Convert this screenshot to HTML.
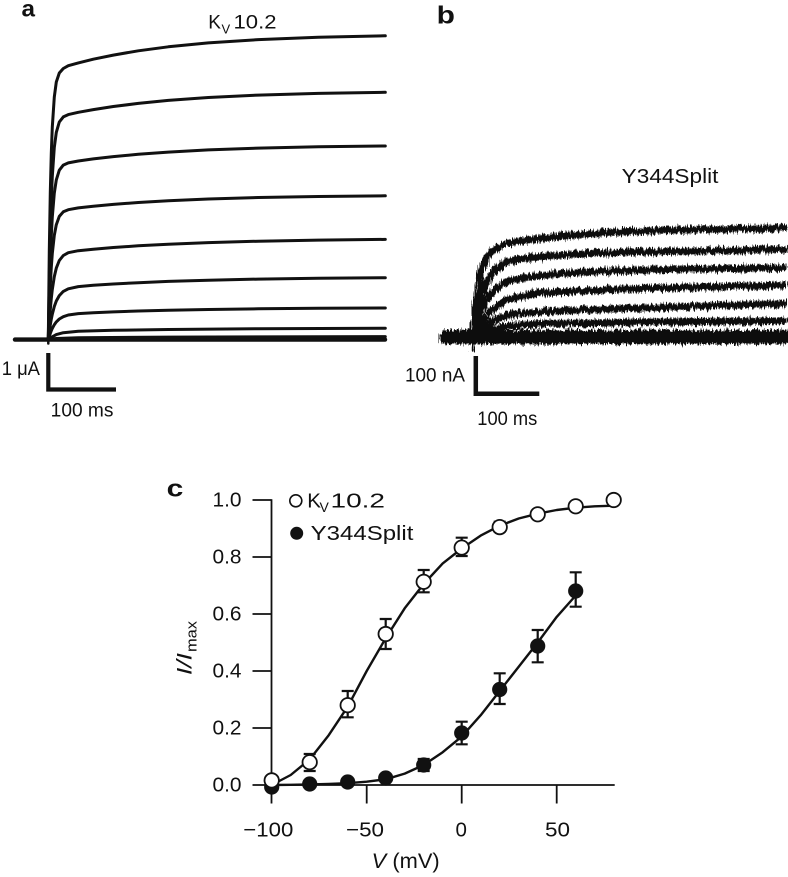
<!DOCTYPE html>
<html><head><meta charset="utf-8"><style>
html,body{margin:0;padding:0;background:#fff;}
svg{display:block;}
text{font-family:"Liberation Sans",Arial,sans-serif;fill:#111;}
</style></head><body>
<svg width="788" height="877" viewBox="0 0 788 877" xmlns="http://www.w3.org/2000/svg">
<defs>
<filter id="nz" x="-5%" y="-30%" width="110%" height="160%">
<feTurbulence type="fractalNoise" baseFrequency="0.8 0.05" numOctaves="2" seed="4" result="t"/>
<feDisplacementMap in="SourceGraphic" in2="t" scale="9" xChannelSelector="R" yChannelSelector="G"/>
</filter>
</defs>

<!-- Panel a -->
<text x="21.5" y="16.5" font-size="23" font-weight="bold" textLength="13.5" lengthAdjust="spacingAndGlyphs">a</text>
<text x="208.3" y="28.3" font-size="19">K</text>
<text x="221.5" y="33.3" font-size="13">V</text>
<text x="233.5" y="28.3" font-size="19" textLength="43" lengthAdjust="spacingAndGlyphs">10.2</text>

<g fill="none" stroke="#111" stroke-width="3" stroke-linejoin="round" stroke-linecap="round">
<line x1="15" y1="339.6" x2="385" y2="339.6" stroke-width="4.4"/>
<polyline points="48.3,340 49.3,250 50.3,192 51.3,153 52.3,127 54.3,97 56.3,82 59.3,73 63.3,68.5 68.3,65.7 78.3,62.9 93.3,59.2 113.3,55.1 138.3,50.8 168.3,46.8 208.3,42.9 258.3,39.6 318.3,37.3 385.3,35.8"/>
<polyline points="48.3,340 49.3,277.1 50.3,232 51.3,199.6 52.3,176.3 54.3,147.4 56.3,132.4 59.3,122 63.3,116.9 68.3,114.6 78.3,112.3 93.3,109.6 113.3,106.5 138.3,103.4 168.3,100.4 208.3,97.5 258.3,95.1 318.3,93.4 385.3,92.3"/>
<polyline points="48.3,340 49.3,294.3 50.3,260.5 51.3,235.5 52.3,217 54.3,193.1 56.3,179.9 59.3,170.2 63.3,165.1 68.3,162.9 78.3,161 93.3,158.9 113.3,156.6 138.3,154.3 168.3,152.1 208.3,149.9 258.3,148.1 318.3,146.8 385.3,146"/>
<polyline points="48.3,340 49.3,308.8 50.3,285.1 51.3,267.2 52.3,253.5 54.3,235.3 56.3,224.7 59.3,216.4 63.3,211.8 68.3,209.7 78.3,207.9 93.3,206.3 113.3,204.4 138.3,202.5 168.3,200.7 208.3,199 258.3,197.5 318.3,196.5 385.3,195.8"/>
<polyline points="48.3,340 49.3,323.1 50.3,309.4 51.3,298.4 52.3,289.5 54.3,276.6 56.3,268.1 59.3,260.5 63.3,255.5 68.3,252.7 78.3,250.7 93.3,249.2 113.3,247.5 138.3,245.8 168.3,244.2 208.3,242.6 258.3,241.2 318.3,240.1 385.3,239.4"/>
<polyline points="48.3,340 49.3,331.8 50.3,324.9 51.3,319.1 52.3,314.2 54.3,306.5 56.3,301 59.3,295.6 63.3,291.4 68.3,288.8 78.3,286.6 93.3,285.2 113.3,284 138.3,282.7 168.3,281.4 208.3,280.2 258.3,279.1 318.3,278.3 385.3,277.7"/>
<polyline points="48.3,340 49.3,336.5 50.3,333.4 51.3,330.7 52.3,328.4 54.3,324.7 56.3,321.9 59.3,319 63.3,316.7 68.3,315 78.3,313.6 93.3,312.7 113.3,311.9 138.3,311 168.3,310.3 208.3,309.5 258.3,308.8 318.3,308.3 385.3,308"/>
<polyline points="48.3,340 50.3,338.2 52.3,336.8 56.3,334.6 63.3,332.7 78.3,331.3 113.3,330.3 168.3,329.5 258.3,328.7 385.3,328.2"/>
<polyline points="48.3,340 56.3,338.5 78.3,337.8 168.3,337.1 385.3,336.6"/>
<line x1="48.3" y1="336" x2="48.3" y2="343.5" stroke-width="2.5"/>
</g>
<!-- scale bar a -->
<path d="M48.3,353 L48.3,389.5 L116,389.5" fill="none" stroke="#111" stroke-width="4.2"/>
<text x="1.7" y="375" font-size="19" textLength="38.3" lengthAdjust="spacingAndGlyphs">1 μA</text>
<text x="50.7" y="416.7" font-size="19" textLength="62.7" lengthAdjust="spacingAndGlyphs">100 ms</text>

<!-- Panel b -->
<text x="436.7" y="23.3" font-size="25" font-weight="bold" textLength="18.3" lengthAdjust="spacingAndGlyphs">b</text>
<text x="621.7" y="183" font-size="20" textLength="96.7" lengthAdjust="spacingAndGlyphs">Y344Split</text>

<g filter="url(#nz)" fill="none" stroke="#111" stroke-width="7" stroke-linejoin="round" stroke-linecap="round">
<line x1="446" y1="337" x2="784" y2="337" stroke-width="14"/>
<polyline points="473.3,337 476.7,298 480,278 483.3,266 487,257 492,251 498,247.5 507,243.5 520,241 540,238.5 570,235.5 600,233.3 640,231 700,229.5 784,228"/>
<polyline points="473.3,337 477,315 480.5,298 486.7,282 493.3,272 500,265.5 507,261.7 520,259 540,256.7 570,254.5 600,253 640,252 700,251 784,249.5"/>
<polyline points="473.3,337 478,318 483.3,305 490,295 496.7,288 506.7,281.7 520,278.5 540,275.5 570,273 600,271.5 640,270 700,269 784,267.7"/>
<polyline points="473.3,337 480,324 490,312 500,304 506.7,300 520,296.5 540,293.3 570,291.3 600,290 640,288.5 700,287 784,285"/>
<polyline points="473.3,337 485,326 495,320 506.7,315.5 520,313.5 540,311.7 570,310.5 600,309.5 640,308 700,306 784,303.5"/>
<polyline points="473.3,337 490,330 506.7,326 540,323.5 600,323 640,322 700,321.5 784,321"/>
<line x1="473.3" y1="302" x2="473.3" y2="350" stroke-width="3"/>
</g>
<!-- scale bar b -->
<path d="M475.8,356 L475.8,393.8 L539.3,393.8" fill="none" stroke="#111" stroke-width="4.5"/>
<text x="405" y="381.7" font-size="19" textLength="60" lengthAdjust="spacingAndGlyphs">100 nA</text>
<text x="477.3" y="425" font-size="19" textLength="60" lengthAdjust="spacingAndGlyphs">100 ms</text>

<!-- Panel c -->
<text x="166.7" y="496.7" font-size="24" font-weight="bold" textLength="16.7" lengthAdjust="spacingAndGlyphs">c</text>

<g stroke="#111" stroke-width="1.8" fill="none">
<line x1="271.5" y1="499.2" x2="271.5" y2="803.5"/>
<line x1="252.5" y1="785" x2="614.7" y2="785"/>
<line x1="252.5" y1="500" x2="271.5" y2="500"/>
<line x1="252.5" y1="557" x2="271.5" y2="557"/>
<line x1="252.5" y1="614" x2="271.5" y2="614"/>
<line x1="252.5" y1="671" x2="271.5" y2="671"/>
<line x1="252.5" y1="728" x2="271.5" y2="728"/>
<line x1="366.7" y1="785" x2="366.7" y2="803.5"/>
<line x1="461.7" y1="785" x2="461.7" y2="803.5"/>
<line x1="556.7" y1="785" x2="556.7" y2="803.5"/>
</g>

<g font-size="20.5" text-anchor="end">
<text x="241.5" y="506.7" textLength="29" lengthAdjust="spacingAndGlyphs">1.0</text>
<text x="241.5" y="563.7" textLength="29" lengthAdjust="spacingAndGlyphs">0.8</text>
<text x="241.5" y="620.7" textLength="29" lengthAdjust="spacingAndGlyphs">0.6</text>
<text x="241.5" y="677.7" textLength="29" lengthAdjust="spacingAndGlyphs">0.4</text>
<text x="241.5" y="734.7" textLength="29" lengthAdjust="spacingAndGlyphs">0.2</text>
<text x="241.5" y="791.7" textLength="29" lengthAdjust="spacingAndGlyphs">0.0</text>
</g>
<g font-size="20.5">
<text x="243.3" y="836.5" textLength="50" lengthAdjust="spacingAndGlyphs">−100</text>
<text x="346" y="836.5" textLength="38" lengthAdjust="spacingAndGlyphs">−50</text>
<text x="455.5" y="836.5">0</text>
<text x="545" y="836.5" textLength="25" lengthAdjust="spacingAndGlyphs">50</text>
</g>
<text x="371.7" y="868" font-size="21" textLength="68" lengthAdjust="spacingAndGlyphs"><tspan font-style="italic">V</tspan> (mV)</text>

<!-- y label -->
<text transform="translate(191.7,675) rotate(-90)" font-size="21" font-style="italic" textLength="22" lengthAdjust="spacingAndGlyphs">I/I</text>
<text transform="translate(196.5,652) rotate(-90)" font-size="15" textLength="31" lengthAdjust="spacingAndGlyphs">max</text>

<!-- legend -->
<circle cx="295.8" cy="500.8" r="6" fill="#fff" stroke="#111" stroke-width="1.6"/>
<text x="307.3" y="507.3" font-size="20.5">K</text>
<text x="319.5" y="512" font-size="14">V</text>
<text x="330.5" y="507.3" font-size="20.5" textLength="54.5" lengthAdjust="spacingAndGlyphs">10.2</text>
<circle cx="296.7" cy="533.3" r="6.5" fill="#111"/>
<text x="310.7" y="540" font-size="20.5" textLength="102.7" lengthAdjust="spacingAndGlyphs">Y344Split</text>

<!-- fit curves -->
<g fill="none" stroke="#111" stroke-width="2.4" stroke-linejoin="round">
<polyline points="271.7,785 290.7,775 309.7,759.4 328.7,735.2 347.7,706.7 366.7,671 385.7,638.2 404.7,608.3 423.7,584 442.7,563.4 461.7,548.5 480.7,535.6 499.7,525.7 518.7,518.5 537.7,513.7 556.7,510 575.7,507.7 594.7,506.3 613.7,505.7"/>
<polyline points="271.7,785 290.7,784.8 309.7,784.5 328.7,784 347.7,783.2 366.7,781.7 385.7,779.3 404.7,773.6 423.7,765 442.7,752.2 461.7,736.6 480.7,715.2 499.7,691 518.7,666.7 537.7,642.5 556.7,616.9 575.7,595.5"/>
</g>

<!-- error bars -->
<g fill="none" stroke="#111" stroke-width="2.2">
<path d="M309.7,754 V771 M303.7,754 H315.7 M303.7,771 H315.7"/>
<path d="M347.7,691 V717.3 M341.7,691 H353.7 M341.7,717.3 H353.7"/>
<path d="M385.7,619 V649 M379.7,619 H391.7 M379.7,649 H391.7"/>
<path d="M423.7,570 V592.3 M417.7,570 H429.7 M417.7,592.3 H429.7"/>
<path d="M461.7,537.7 V556 M455.7,537.7 H467.7 M455.7,556 H467.7"/>
<path d="M499.7,521.7 V531.5 M493.7,521.7 H505.7 M493.7,531.5 H505.7"/>
<path d="M423.7,759 V771 M417.7,759 H429.7 M417.7,771 H429.7"/>
<path d="M461.7,721.7 V744.3 M455.7,721.7 H467.7 M455.7,744.3 H467.7"/>
<path d="M499.7,673.3 V704 M493.7,673.3 H505.7 M493.7,704 H505.7"/>
<path d="M537.7,630 V662.3 M531.7,630 H543.7 M531.7,662.3 H543.7"/>
<path d="M575.7,572.3 V606.7 M569.7,572.3 H581.7 M569.7,606.7 H581.7"/>
</g>

<!-- filled markers (Y344Split) -->
<g fill="#111">
<circle cx="271.7" cy="787" r="7.6"/>
<circle cx="309.7" cy="784" r="7.6"/>
<circle cx="347.7" cy="782" r="7.6"/>
<circle cx="385.7" cy="778" r="7.6"/>
<circle cx="423.7" cy="765" r="7.6"/>
<circle cx="461.7" cy="733" r="7.6"/>
<circle cx="499.7" cy="689.5" r="7.6"/>
<circle cx="537.7" cy="646" r="7.6"/>
<circle cx="575.7" cy="591" r="7.6"/>
</g>
<!-- open markers (Kv10.2) -->
<g fill="#fff" stroke="#111" stroke-width="1.8">
<circle cx="271.7" cy="780.4" r="7.2"/>
<circle cx="309.7" cy="762.2" r="7.2"/>
<circle cx="347.7" cy="705.2" r="7.2"/>
<circle cx="385.7" cy="634" r="7.2"/>
<circle cx="423.7" cy="581.8" r="7.2"/>
<circle cx="461.7" cy="547.6" r="7.2"/>
<circle cx="499.7" cy="527.1" r="7.2"/>
<circle cx="537.7" cy="514.3" r="7.2"/>
<circle cx="575.7" cy="506.3" r="7.2"/>
<circle cx="613.7" cy="500" r="7.2"/>
</g>
</svg>
</body></html>
